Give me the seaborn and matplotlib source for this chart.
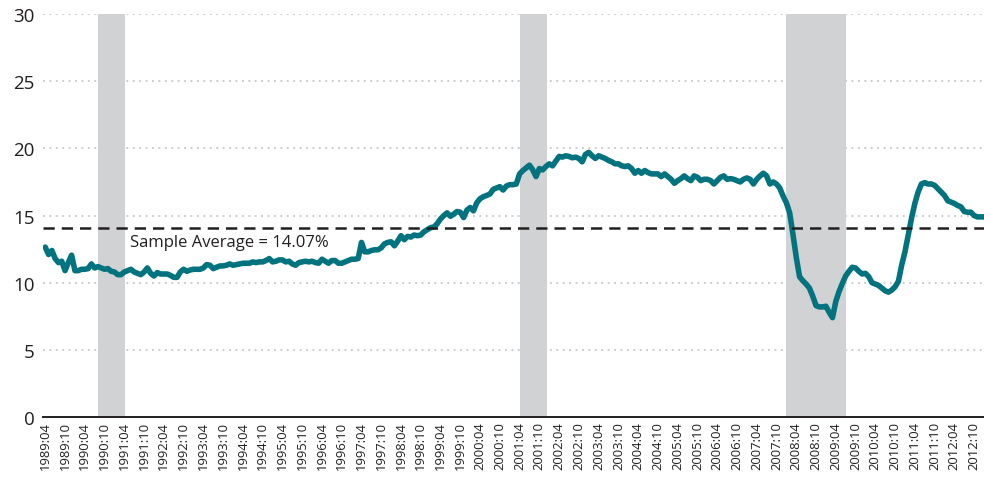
import matplotlib
matplotlib.use("Agg")
import matplotlib.pyplot as plt
import numpy as np
import pandas as pd
import seaborn as sns

# monthly series, 1989:04 .. 2013:01
start_month = "1989-04"
vals_1989 = [12.65, 12.1, 12.4, 11.8, 11.5, 11.6, 10.9, 11.5, 12.05]
vals_1990 = [10.9, 10.9, 11.0, 11.0, 11.05, 11.4, 11.1, 11.2, 11.1, 11.0, 11.05, 10.85]
vals_1991 = [10.8, 10.6, 10.6, 10.8, 10.9, 11.0, 10.8, 10.7, 10.6, 10.8, 11.1, 10.7]
vals_1992 = [10.5, 10.75, 10.65, 10.65, 10.65, 10.55, 10.4, 10.4, 10.8, 11.0, 10.85, 10.95]
vals_1993 = [11.0, 11.0, 11.0, 11.1, 11.35, 11.3, 11.05, 11.15, 11.25, 11.25, 11.3, 11.4]
vals_1994 = [11.3, 11.35, 11.4, 11.45, 11.45, 11.45, 11.55, 11.5, 11.55, 11.55, 11.65, 11.8]
vals_1995 = [11.55, 11.6, 11.7, 11.7, 11.55, 11.6, 11.4, 11.3, 11.5, 11.55, 11.6, 11.55]
vals_1996 = [11.6, 11.5, 11.45, 11.75, 11.6, 11.45, 11.65, 11.65, 11.45, 11.45, 11.55, 11.65]
vals_1997 = [11.75, 11.75, 11.8, 13.0, 12.3, 12.3, 12.4, 12.45, 12.45, 12.6, 12.9, 13.0]
vals_1998 = [13.05, 12.75, 13.1, 13.5, 13.2, 13.45, 13.4, 13.55, 13.5, 13.55, 13.8, 13.95]
vals_1999 = [14.1, 14.15, 14.4, 14.75, 15.0, 15.2, 14.95, 15.1, 15.3, 15.25, 14.85, 15.4]
vals_2000 = [15.6, 15.35, 15.95, 16.25, 16.4, 16.5, 16.6, 16.95, 17.05, 17.15, 16.9, 17.2]
vals_2001 = [17.3, 17.3, 17.35, 18.1, 18.35, 18.55, 18.75, 18.4, 17.9, 18.5, 18.4, 18.65]
vals_2002 = [18.85, 18.7, 19.05, 19.4, 19.35, 19.45, 19.4, 19.3, 19.35, 19.25, 19.0, 19.55]
vals_2003 = [19.7, 19.45, 19.25, 19.45, 19.35, 19.25, 19.1, 19.0, 18.85, 18.85, 18.7, 18.65]
vals_2004 = [18.7, 18.5, 18.15, 18.35, 18.15, 18.35, 18.2, 18.1, 18.1, 18.1, 17.9, 18.1]
vals_2005 = [17.9, 17.7, 17.4, 17.6, 17.75, 17.95, 17.75, 17.6, 17.95, 17.85, 17.6, 17.7]
vals_2006 = [17.7, 17.6, 17.35, 17.6, 17.85, 17.95, 17.7, 17.75, 17.7, 17.6, 17.5, 17.7]
vals_2007 = [17.8, 17.7, 17.35, 17.7, 17.95, 18.15, 17.95, 17.35, 17.5, 17.35, 17.05, 16.45]
vals_2008 = [15.95, 15.2, 13.6, 11.9, 10.45, 10.15, 9.9, 9.6, 9.0, 8.3, 8.2, 8.2]
vals_2009 = [8.25, 7.8, 7.4, 8.6, 9.35, 9.95, 10.5, 10.85, 11.15, 11.1, 10.85, 10.65]
vals_2010 = [10.7, 10.45, 10.0, 9.9, 9.8, 9.6, 9.4, 9.3, 9.45, 9.7, 10.1, 11.3]
vals_2011 = [12.3, 13.55, 14.8, 15.9, 16.75, 17.35, 17.45, 17.35, 17.35, 17.25, 17.0, 16.75]
vals_2012 = [16.5, 16.1, 16.0, 15.9, 15.75, 15.65, 15.3, 15.25, 15.25, 15.0, 14.9, 14.9]
vals_2013 = [14.9]

sample_average = 14.07
recessions = [("1990-07", "1991-03"), ("2001-03", "2001-11"), ("2007-12", "2009-06")]

values = (vals_1989 + vals_1990 + vals_1991 + vals_1992 + vals_1993 + vals_1994
          + vals_1995 + vals_1996 + vals_1997 + vals_1998 + vals_1999 + vals_2000
          + vals_2001 + vals_2002 + vals_2003 + vals_2004 + vals_2005 + vals_2006
          + vals_2007 + vals_2008 + vals_2009 + vals_2010 + vals_2011 + vals_2012
          + vals_2013)
months = pd.period_range(start_month, periods=len(values), freq="M")
df = pd.DataFrame({"idx": np.arange(len(values)), "value": values})

sns.set_theme(style="white")
plt.rcParams["font.family"] = ["Open Sans", "DejaVu Sans"]
text_col = "#231f20"

fig = plt.figure(figsize=(9.84, 4.85), dpi=100)
ax = fig.add_axes([0.044, 0.138, 0.956, 0.831])

# recession shading (opaque, covers the grid)
start0 = months[0]
for s, e in recessions:
    a = (pd.Period(s, "M") - start0).n + 1.0
    b = (pd.Period(e, "M") - start0).n + 1.2
    ax.axvspan(a, b, color="#d1d2d4", lw=0, zorder=1)

sns.lineplot(data=df, x="idx", y="value", ax=ax, color="#00737f", lw=4.0,
             zorder=3, solid_joinstyle="round")
ax.axhline(sample_average, color=text_col, lw=1.8, ls=(0, (4.5, 2.8)), zorder=4)
ax.text(25.8, 13.0, f"Sample Average = {sample_average:.2f}%", fontsize=12,
        color=text_col, va="center", ha="left", zorder=5)

ax.set_ylim(0, 30)
ax.set_xlim(-0.6, len(values) - 1)
ax.set_yticks(range(0, 31, 5))
ax.yaxis.grid(True, color="#bdbdbd", ls=(0, (1.2, 3)), lw=1.1, zorder=0)
ax.set_axisbelow(True)

tick_pos = df["idx"][::6]
ax.set_xticks(tick_pos)
ax.set_xticklabels([months[i].strftime("%Y:%m") for i in tick_pos], rotation=90,
                   fontsize=9.4, color=text_col)
ax.tick_params(axis="y", labelsize=13.5, colors=text_col, length=0, pad=6)
ax.tick_params(axis="x", length=0, pad=3)
for side in ["top", "right", "left"]:
    ax.spines[side].set_visible(False)
ax.spines["bottom"].set_color(text_col)
ax.spines["bottom"].set_linewidth(1.4)
ax.spines["bottom"].set_zorder(6)
ax.set_xlabel("")
ax.set_ylabel("")

fig.savefig("out.png", dpi=100)
